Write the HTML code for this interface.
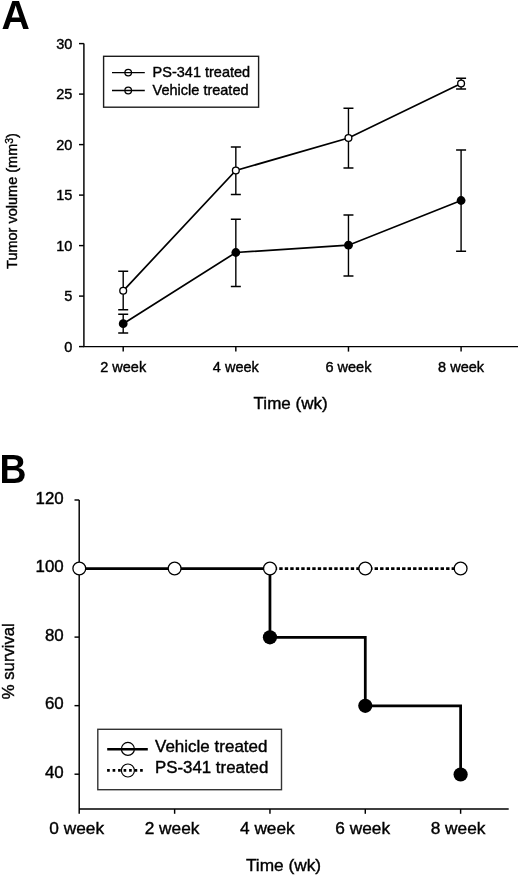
<!DOCTYPE html>
<html><head><meta charset="utf-8"><style>
html,body{margin:0;padding:0;background:#fff;width:520px;height:876px;overflow:hidden}
svg{display:block;filter:grayscale(1)}
text{font-family:"Liberation Sans", sans-serif;fill:#000;stroke:#000;stroke-width:0.4px}
</style></head><body>
<svg width="520" height="876" viewBox="0 0 520 876">
<path d="M83.9,43.6 V346.6 H518" fill="none" stroke="#000" stroke-width="1.45"/>
<path d="M79,346.60 H83.9" stroke="#000" stroke-width="1.45"/>
<text x="72.3" y="351.80" text-anchor="end" font-size="14.5">0</text>
<path d="M79,296.10 H83.9" stroke="#000" stroke-width="1.45"/>
<text x="72.3" y="301.30" text-anchor="end" font-size="14.5">5</text>
<path d="M79,245.60 H83.9" stroke="#000" stroke-width="1.45"/>
<text x="72.3" y="250.80" text-anchor="end" font-size="14.5">10</text>
<path d="M79,195.10 H83.9" stroke="#000" stroke-width="1.45"/>
<text x="72.3" y="200.30" text-anchor="end" font-size="14.5">15</text>
<path d="M79,144.60 H83.9" stroke="#000" stroke-width="1.45"/>
<text x="72.3" y="149.80" text-anchor="end" font-size="14.5">20</text>
<path d="M79,94.10 H83.9" stroke="#000" stroke-width="1.45"/>
<text x="72.3" y="99.30" text-anchor="end" font-size="14.5">25</text>
<path d="M79,43.60 H83.9" stroke="#000" stroke-width="1.45"/>
<text x="72.3" y="48.80" text-anchor="end" font-size="14.5">30</text>
<path d="M123.20,346.6 V351.6" stroke="#000" stroke-width="1.45"/>
<text x="123.20" y="371.8" text-anchor="middle" font-size="14.5">2 week</text>
<path d="M235.83,346.6 V351.6" stroke="#000" stroke-width="1.45"/>
<text x="235.83" y="371.8" text-anchor="middle" font-size="14.5">4 week</text>
<path d="M348.46,346.6 V351.6" stroke="#000" stroke-width="1.45"/>
<text x="348.46" y="371.8" text-anchor="middle" font-size="14.5">6 week</text>
<path d="M461.09,346.6 V351.6" stroke="#000" stroke-width="1.45"/>
<text x="461.09" y="371.8" text-anchor="middle" font-size="14.5">8 week</text>
<text x="290.6" y="409" text-anchor="middle" font-size="17">Time (wk)</text>
<text transform="translate(17,201) rotate(-90)" text-anchor="middle" font-size="14.5">Tumor volume (mm<tspan font-size="10.5" dy="-4.2">3</tspan><tspan dy="4.2">)</tspan></text>
<text transform="translate(1.6,28.9) scale(0.97,1)" font-size="40.5" font-weight="bold" style="stroke:none">A</text>
<path d="M123.20,271.3 V309.8 M118.20,271.3 h10 M118.20,309.8 h10" stroke="#000" stroke-width="1.4" fill="none"/>
<path d="M235.83,147 V194.5 M230.83,147 h10 M230.83,194.5 h10" stroke="#000" stroke-width="1.4" fill="none"/>
<path d="M348.46,108.2 V168 M343.46,108.2 h10 M343.46,168 h10" stroke="#000" stroke-width="1.4" fill="none"/>
<path d="M461.09,78.3 V89 M456.09,78.3 h10 M456.09,89 h10" stroke="#000" stroke-width="1.4" fill="none"/>
<path d="M123.20,314.3 V333 M118.20,314.3 h10 M118.20,333 h10" stroke="#000" stroke-width="1.4" fill="none"/>
<path d="M235.83,219.3 V286.5 M230.83,219.3 h10 M230.83,286.5 h10" stroke="#000" stroke-width="1.4" fill="none"/>
<path d="M348.46,215 V276 M343.46,215 h10 M343.46,276 h10" stroke="#000" stroke-width="1.4" fill="none"/>
<path d="M461.09,150 V251.2 M456.09,150 h10 M456.09,251.2 h10" stroke="#000" stroke-width="1.4" fill="none"/>
<path d="M123.20,290.8 L235.83,170.5 L348.46,138 L461.09,83.5" stroke="#000" stroke-width="1.7" fill="none"/>
<path d="M123.20,323.7 L235.83,252.5 L348.46,245.2 L461.09,200.5" stroke="#000" stroke-width="1.7" fill="none"/>
<circle cx="123.20" cy="290.8" r="3.4" fill="#fff" stroke="#000" stroke-width="1.35"/>
<circle cx="235.83" cy="170.5" r="3.4" fill="#fff" stroke="#000" stroke-width="1.35"/>
<circle cx="348.46" cy="138" r="3.4" fill="#fff" stroke="#000" stroke-width="1.35"/>
<circle cx="461.09" cy="83.5" r="3.4" fill="#fff" stroke="#000" stroke-width="1.35"/>
<circle cx="123.20" cy="323.7" r="4.4" fill="#000"/>
<circle cx="235.83" cy="252.5" r="4.4" fill="#000"/>
<circle cx="348.46" cy="245.2" r="4.4" fill="#000"/>
<circle cx="461.09" cy="200.5" r="4.4" fill="#000"/>
<rect x="103.6" y="56.3" width="155" height="50.9" fill="none" stroke="#1c1c1c" stroke-width="1.4"/>
<path d="M112,72.6 H144.8" stroke="#000" stroke-width="1.3"/>
<circle cx="128.2" cy="72.6" r="3.3" fill="none" stroke="#000" stroke-width="1.3"/>
<text x="152.6" y="77.2" font-size="14.5">PS-341 treated</text>
<path d="M112,90.5 H144.8" stroke="#000" stroke-width="1.3"/>
<circle cx="128.2" cy="90.5" r="3.3" fill="none" stroke="#000" stroke-width="1.3"/>
<text x="152.6" y="95.2" font-size="14.5">Vehicle treated</text>
<path d="M79.2,500 V813.8 M79.2,809 H508.7" fill="none" stroke="#000" stroke-width="1.45"/>
<path d="M74.5,500.00 H79.2" stroke="#000" stroke-width="1.45"/>
<text x="63.7" y="503.80" text-anchor="end" font-size="16.9">120</text>
<path d="M74.5,568.55 H79.2" stroke="#000" stroke-width="1.45"/>
<text x="63.7" y="572.35" text-anchor="end" font-size="16.9">100</text>
<path d="M74.5,637.10 H79.2" stroke="#000" stroke-width="1.45"/>
<text x="63.7" y="640.90" text-anchor="end" font-size="16.9">80</text>
<path d="M74.5,705.65 H79.2" stroke="#000" stroke-width="1.45"/>
<text x="63.7" y="709.45" text-anchor="end" font-size="16.9">60</text>
<path d="M74.5,774.20 H79.2" stroke="#000" stroke-width="1.45"/>
<text x="63.7" y="778.00" text-anchor="end" font-size="16.9">40</text>
<text x="76.70" y="834" text-anchor="middle" font-size="17.3">0 week</text>
<path d="M174.63,809 V813.8" stroke="#000" stroke-width="1.45"/>
<text x="172.03" y="834" text-anchor="middle" font-size="17.3">2 week</text>
<path d="M269.96,809 V813.8" stroke="#000" stroke-width="1.45"/>
<text x="267.36" y="834" text-anchor="middle" font-size="17.3">4 week</text>
<path d="M365.29,809 V813.8" stroke="#000" stroke-width="1.45"/>
<text x="362.69" y="834" text-anchor="middle" font-size="17.3">6 week</text>
<path d="M460.62,809 V813.8" stroke="#000" stroke-width="1.45"/>
<text x="458.02" y="834" text-anchor="middle" font-size="17.3">8 week</text>
<text x="283.5" y="871" text-anchor="middle" font-size="17.3">Time (wk)</text>
<text transform="translate(13.8,661.2) rotate(-90)" text-anchor="middle" font-size="16.7">% survival</text>
<text transform="translate(-0.4,482.7) scale(0.9,1)" font-size="41.5" font-weight="bold" style="stroke:none">B</text>
<path d="M269.96,568.5 H365.29" stroke="#000" stroke-width="2.75" stroke-dasharray="3.4 2.1" stroke-dashoffset="1.7" fill="none"/>
<path d="M365.29,568.5 H460.62" stroke="#000" stroke-width="2.75" stroke-dasharray="3.4 2.1" stroke-dashoffset="1.7" fill="none"/>
<path d="M79.2,568.5 H269.96 V637.3 H365.29 V705.8 H460.62 V774.5" stroke="#000" stroke-width="2.75" fill="none"/>
<circle cx="79.30" cy="568.5" r="6.4" fill="#fff" stroke="#000" stroke-width="1.3"/>
<circle cx="174.63" cy="568.5" r="6.4" fill="#fff" stroke="#000" stroke-width="1.3"/>
<circle cx="269.96" cy="568.5" r="6.4" fill="#fff" stroke="#000" stroke-width="1.3"/>
<circle cx="365.29" cy="568.5" r="6.4" fill="#fff" stroke="#000" stroke-width="1.3"/>
<circle cx="460.62" cy="568.5" r="6.4" fill="#fff" stroke="#000" stroke-width="1.3"/>
<circle cx="269.96" cy="637.3" r="7.1" fill="#000"/>
<circle cx="365.29" cy="705.8" r="7.1" fill="#000"/>
<circle cx="460.62" cy="774.5" r="7.1" fill="#000"/>
<rect x="97.8" y="729.3" width="183.7" height="60.4" fill="none" stroke="#333" stroke-width="1.4"/>
<path d="M107.2,749.2 H147.8" stroke="#000" stroke-width="2.6"/>
<circle cx="127.9" cy="748.9" r="6.5" fill="none" stroke="#000" stroke-width="1.2"/>
<path d="M107.1,770.4 H143" stroke="#000" stroke-width="2.65" stroke-dasharray="2.65 2.85"/>
<circle cx="127.9" cy="770.5" r="6.5" fill="none" stroke="#000" stroke-width="1.2"/>
<text x="155" y="751.5" font-size="17">Vehicle treated</text>
<text x="155" y="772.8" font-size="16.85">PS-341 treated</text>
</svg>
</body></html>
